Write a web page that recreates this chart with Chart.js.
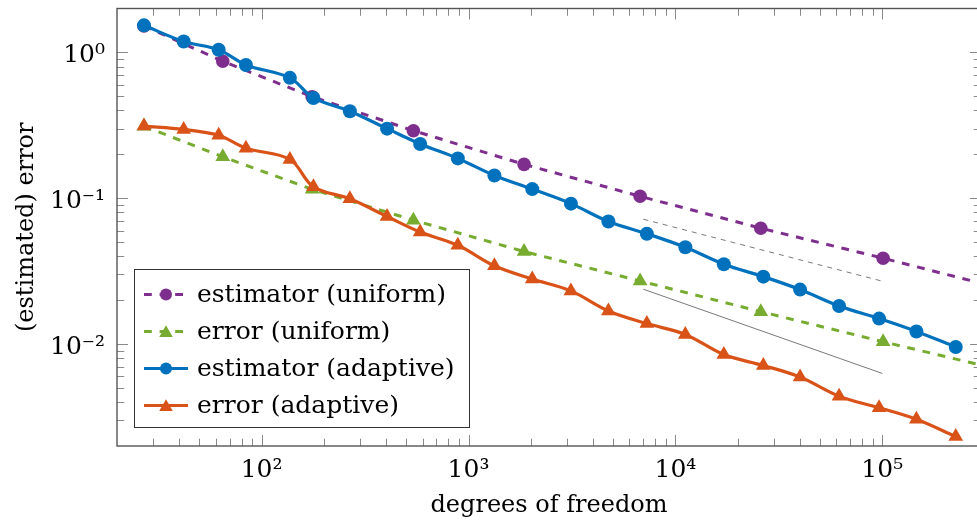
<!DOCTYPE html>
<html><head><meta charset="utf-8">
<script src="https://cdn.jsdelivr.net/npm/chart.js@4"></script>
<style>html,body{margin:0;padding:0;overflow:hidden;background:#fff}#wrap{position:relative;width:990px;height:527px}</style>
</head><body><div id="wrap"><canvas id="c"></canvas></div>
<script>
// ---- data ----
const adaptiveDofs = [27, 42, 62, 84, 137, 178, 267, 404, 584, 888, 1334, 2033, 3126, 4745, 7278, 11170, 17140, 26610, 40060, 61830, 96500, 146200, 226500];
const estimatorAdaptive = [1.533, 1.188, 1.042, 0.820, 0.669, 0.487, 0.395, 0.300, 0.2357, 0.1875, 0.1433, 0.1155, 0.0918, 0.0692, 0.0571, 0.0461, 0.0353, 0.0290, 0.02364, 0.01824, 0.01495, 0.01220, 0.00955];
const errorAdaptive = [0.3123, 0.2966, 0.2700, 0.2204, 0.1846, 0.1197, 0.0992, 0.0749, 0.0586, 0.0476, 0.0344, 0.0279, 0.02316, 0.01686, 0.01382, 0.01164, 0.00847, 0.00713, 0.00594, 0.00439, 0.00366, 0.00305, 0.00232];
const uniformDofs = [27, 64.9, 175.5, 541.6, 1856, 6751, 25870, 100900, 393000];
const estimatorUniform = [1.52, 0.869, 0.497, 0.2905, 0.1707, 0.1031, 0.0623, 0.0388, 0.0237];
const errorUniform = [0.312, 0.1923, 0.1151, 0.0707, 0.0431, 0.0271, 0.01668, 0.01038, 0.00655];
const refDofs = [7000, 100000];
const refDashed = [0.0718, 0.0270];
const refSolid = [0.02378, 0.00629];
const seriesNames = ['estimator (uniform)', 'error (uniform)', 'estimator (adaptive)', 'error (adaptive)'];
const xMajorTicks = [100, 1000, 10000, 100000];
const xTickLabels = ['10²', '10³', '10⁴', '10⁵'];
const yMajorTicks = [0.01, 0.1, 1];
const yTickLabels = ['10⁻²', '10⁻¹', '10⁰'];
const xMinorDecades = [10, 100, 1000, 10000];
const yMinorDecades = [0.001, 0.01, 0.1];
const xRange = [20, 300000];
const yRange = [0.002, 2];
const xTitle = 'degrees of freedom';
const yTitle = '(estimated) error';

const SERIF = '"DejaVu Serif", "Liberation Serif", serif';
const toPts = (xs, ys) => xs.map((v, i) => ({x: v, y: ys[i]}));
function minorTicks(decades, lo, hi) {
  const out = [];
  decades.forEach(d => { for (let k = 2; k <= 9; k++) { const v = +(k * d).toPrecision(6); if (v > lo && v < hi) out.push(v); } });
  return out;
}
const xAllTicks = [...xMajorTicks, ...minorTicks(xMinorDecades, xRange[0], xRange[1])].sort((a, b) => a - b);
const yAllTicks = [...yMajorTicks, ...minorTicks(yMinorDecades, yRange[0], yRange[1])].sort((a, b) => a - b);
function labelFor(v, majors, labels) {
  const i = majors.findIndex(m => Math.abs(m - v) / m < 1e-9);
  return i >= 0 ? labels[i] : '';
}

const COL = {purple: '#7E2F8E', green: '#77AC30', blue: '#0072BD', orange: '#D95319', gray: '#6a6a6a'};
const datasets = [
  {label: seriesNames[0], data: toPts(uniformDofs, estimatorUniform), borderColor: COL.purple, backgroundColor: COL.purple,
   borderWidth: 3, borderDash: [7.8, 7.8], pointStyle: 'circle', pointRadius: 6.8, pointBorderWidth: 0, tension: 0, order: 1},
  {label: seriesNames[1], data: toPts(uniformDofs, errorUniform), borderColor: COL.green, backgroundColor: COL.green,
   borderWidth: 3, borderDash: [7.8, 7.8], pointStyle: 'triangle', pointRadius: 8.5, pointBorderWidth: 0, tension: 0, order: 1},
  {label: seriesNames[2], data: toPts(adaptiveDofs, estimatorAdaptive), borderColor: COL.blue, backgroundColor: COL.blue,
   borderWidth: 3.2, pointStyle: 'circle', pointRadius: 7, pointBorderWidth: 0, tension: 0.35, order: 0},
  {label: seriesNames[3], data: toPts(adaptiveDofs, errorAdaptive), borderColor: COL.orange, backgroundColor: COL.orange,
   borderWidth: 3.2, pointStyle: 'triangle', pointRadius: 8.5, pointBorderWidth: 0, tension: 0.35, order: 0},
  {label: 'ref1', data: toPts(refDofs, refDashed), borderColor: COL.gray, borderWidth: 0.9, borderDash: [5, 5], pointRadius: 0, order: 2},
  {label: 'ref2', data: toPts(refDofs, refSolid), borderColor: COL.gray, borderWidth: 0.9, pointRadius: 0, order: 2}
];

const framePlugin = {
  id: 'frame',
  afterDatasetsDraw(chart) {
    const {ctx, chartArea: a, scales: {x, y}} = chart;
    ctx.save();
    ctx.strokeStyle = '#8a8a8a'; ctx.lineWidth = 1;
    x.ticks.forEach(t => {
      const px = Math.round(x.getPixelForValue(t.value)) + 0.5;
      const len = xMajorTicks.includes(t.value) ? 11 : 7.3;
      ctx.beginPath();
      ctx.moveTo(px, a.bottom); ctx.lineTo(px, a.bottom - len);
      ctx.moveTo(px, a.top); ctx.lineTo(px, a.top + len);
      ctx.stroke();
    });
    y.ticks.forEach(t => {
      const py = Math.round(y.getPixelForValue(t.value)) + 0.5;
      const len = yMajorTicks.includes(t.value) ? 11 : 7.3;
      ctx.beginPath();
      ctx.moveTo(a.left, py); ctx.lineTo(a.left + len, py);
      ctx.moveTo(a.right, py); ctx.lineTo(a.right - len, py);
      ctx.stroke();
    });
    ctx.strokeStyle = '#555'; ctx.lineWidth = 1.4;
    ctx.strokeRect(a.left, a.top, a.right - a.left, a.bottom - a.top);

    // legend box inside the plot
    const L = {x0: 134.5, y0: 269.5, x1: 469.5, y1: 427.5, rowY: 294.5, step: 37, sx0: 144, sx1: 188, mx: 166, tx: 197};
    ctx.fillStyle = '#fff';
    ctx.fillRect(L.x0, L.y0, L.x1 - L.x0, L.y1 - L.y0);
    ctx.strokeStyle = '#333'; ctx.lineWidth = 1;
    ctx.strokeRect(L.x0, L.y0, L.x1 - L.x0, L.y1 - L.y0);
    for (let i = 0; i < 4; i++) {
      const ds = chart.data.datasets[i];
      const yy = L.rowY + i * L.step;
      ctx.save();
      ctx.strokeStyle = ds.borderColor; ctx.lineWidth = ds.borderWidth;
      ctx.setLineDash(ds.borderDash || []);
      ctx.beginPath(); ctx.moveTo(L.sx0, yy); ctx.lineTo(L.sx1, yy); ctx.stroke();
      ctx.restore();
      ctx.fillStyle = ds.backgroundColor;
      ctx.beginPath();
      if (ds.pointStyle === 'triangle') {
        const r = 7.8, cy = yy + 1.5;
        ctx.moveTo(L.mx, cy - r); ctx.lineTo(L.mx + r * 0.866, cy + r / 2); ctx.lineTo(L.mx - r * 0.866, cy + r / 2); ctx.closePath();
      } else {
        ctx.arc(L.mx, yy, 6, 0, Math.PI * 2);
      }
      ctx.fill();
      ctx.fillStyle = '#000';
      ctx.font = '25px ' + SERIF;
      ctx.textBaseline = 'alphabetic';
      ctx.textAlign = 'left';
      ctx.fillText(seriesNames[i], L.tx, yy + 7.5);
    }
    ctx.restore();
  }
};

Chart.defaults.font.family = SERIF;
Chart.defaults.color = '#000';
new Chart(document.getElementById('c'), {
  type: 'line',
  data: {datasets},
  options: {
    responsive: true, maintainAspectRatio: false, devicePixelRatio: 1, animation: false,
    layout: {padding: {top: 4, right: 9, left: 0, bottom: 0}},
    plugins: {legend: {display: false}, tooltip: {enabled: false}},
    scales: {
      x: {
        type: 'logarithmic', min: xRange[0], max: xRange[1],
        afterBuildTicks: s => { s.ticks = xAllTicks.map(v => ({value: v})); },
        afterFit: s => { s.height = 81; s.paddingLeft = 0; s.paddingRight = 0; },
        grid: {display: false, drawTicks: false},
        border: {display: false},
        ticks: {autoSkip: false, maxRotation: 0, padding: 9, font: {size: 25},
                callback: v => labelFor(v, xMajorTicks, xTickLabels)},
        title: {display: true, text: xTitle, font: {size: 24}, padding: {top: 0, bottom: 7}}
      },
      y: {
        type: 'logarithmic', min: yRange[0], max: yRange[1],
        afterBuildTicks: s => { s.ticks = yAllTicks.map(v => ({value: v})); },
        afterFit: s => { s.width = 117; s.paddingTop = 0; s.paddingBottom = 0; },
        grid: {display: false, drawTicks: false},
        border: {display: false},
        ticks: {autoSkip: false, padding: 12, labelOffset: 3, font: {size: 25},
                callback: v => labelFor(v, yMajorTicks, yTickLabels)},
        title: {display: true, text: yTitle, font: {size: 24}, padding: {top: 12, bottom: 0}}
      }
    }
  },
  plugins: [framePlugin]
});
</script>
</body></html>
